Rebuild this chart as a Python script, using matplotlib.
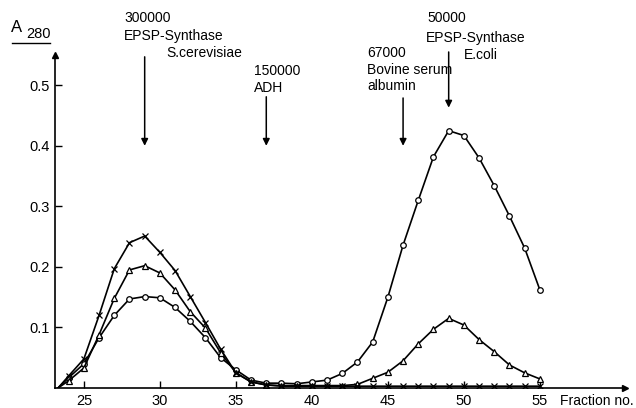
import matplotlib.pyplot as plt
import numpy as np

# fraction numbers and A280 readings for the three runs
fractions = list(range(24, 56))
circles = [0.017, 0.04, 0.083, 0.12, 0.147, 0.151, 0.149, 0.133, 0.11, 0.083,
           0.05, 0.03, 0.013, 0.008, 0.008, 0.007, 0.01, 0.013, 0.024, 0.043,
           0.076, 0.15, 0.236, 0.31, 0.382, 0.425, 0.417, 0.38, 0.334, 0.284,
           0.231, 0.162]
triangles = [0.012, 0.033, 0.088, 0.148, 0.195, 0.202, 0.19, 0.162, 0.126, 0.099,
             0.058, 0.025, 0.01, 0.005, 0.004, 0.004, 0.004, 0.004, 0.004, 0.006,
             0.016, 0.026, 0.045, 0.073, 0.097, 0.115, 0.104, 0.08, 0.06, 0.038,
             0.025, 0.015]
crosses = [0.02, 0.048, 0.12, 0.197, 0.24, 0.251, 0.224, 0.194, 0.151, 0.108,
           0.064, 0.025, 0.01, 0.005, 0.003, 0.003, 0.003, 0.003, 0.003, 0.003,
           0.003, 0.003, 0.003, 0.003, 0.003, 0.003, 0.003, 0.003, 0.003, 0.003,
           0.003, 0.003]

# molecular weight markers (fraction of elution peak)
marker_pos = [29, 37, 46, 49]

x_ticks = [25, 30, 35, 40, 45, 50, 55]
y_ticks = [0.1, 0.2, 0.3, 0.4, 0.5]

plt.rcParams['font.family'] = ['Liberation Sans', 'DejaVu Sans']

fig = plt.figure(figsize=(6.36, 4.08), dpi=100)
ax = fig.add_axes([55 / 636, 1 - 388 / 408, (625 - 55) / 636, (388 - 55) / 408])

x0, x1 = 23.1, 60.6
ax.set_xlim(x0, x1)
ax.set_ylim(0, 0.55)

# curves start from the baseline
start = 23.3
for vals, mk, ms in [(circles, 'o', 4), (triangles, '^', 5), (crosses, 'x', 4)]:
    ax.plot([start] + fractions, [0] + vals, color='black', lw=1.2)
    ax.plot(fractions, vals, ls='none', marker=mk, ms=ms, mfc='white',
            mec='black', mew=0.9, color='black')

for s in ['top', 'right']:
    ax.spines[s].set_visible(False)
for s in ['left', 'bottom']:
    ax.spines[s].set_linewidth(1.2)

ax.plot(1, 0, '>k', ms=5, transform=ax.transAxes, clip_on=False)
ax.plot(0, 1, '^k', ms=5, transform=ax.transAxes, clip_on=False)

ax.set_xticks(x_ticks)
ax.set_yticks(y_ticks)
ax.set_yticklabels([f"{v:.1f}" for v in y_ticks])
ax.tick_params(direction='in', length=5, width=1, labelsize=10.5, pad=4)

# arrows for the size markers
tops = [0.547, 0.481, 0.479, 0.555]
bottoms = [0.40, 0.40, 0.40, 0.463]
for xp, yt, yb in zip(marker_pos, tops, bottoms):
    ax.annotate("", xy=(xp, yb), xytext=(xp, yt),
                arrowprops=dict(arrowstyle='-|>', color='black', lw=1.1,
                                mutation_scale=10, shrinkA=0, shrinkB=0),
                annotation_clip=False)

def ftext(px, py, s, **kw):
    fig.text(px / 636, 1 - py / 408, s, fontsize=10, va='center', ha='left', **kw)

ftext(124, 18, "300000")
ftext(124, 36, "EPSP-Synthase")
ftext(166, 53, "S.cerevisiae")
ftext(254, 71, "150000")
ftext(254, 88, "ADH")
ftext(367, 53, "67000")
ftext(367, 70, "Bovine serum")
ftext(367, 86, "albumin")
ftext(427, 18, "50000")
ftext(426, 38, "EPSP-Synthase")
ftext(464, 55, "E.coli")

# axis labels
fig.text(11 / 636, 1 - 27 / 408, "A", fontsize=12, va='center', ha='left')
fig.text(26 / 636, 1 - 34 / 408, "280", fontsize=10.5, va='center', ha='left')
fig.add_artist(plt.Line2D([12 / 636, 50 / 636], [1 - 43 / 408, 1 - 43 / 408],
                          color='black', lw=1))
fig.text(634 / 636, 1 - 401 / 408, "Fraction no.", fontsize=10,
         va='center', ha='right')

fig.savefig("out.png", dpi=100)
